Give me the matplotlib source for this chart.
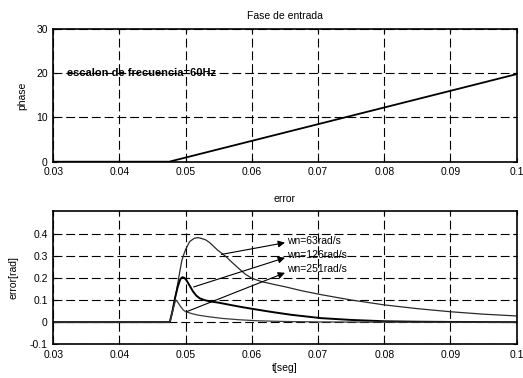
import matplotlib
matplotlib.use("Agg")
import matplotlib.pyplot as plt

plt.rcParams['font.family'] = ['Liberation Sans', 'DejaVu Sans']

# ---- data ----
x_ticks = [0.03, 0.04, 0.05, 0.06, 0.07, 0.08, 0.09, 0.1]
x_ticklabels = ["0.03", "0.04", "0.05", "0.06", "0.07", "0.08", "0.09", "0.1"]
phase_yticks = [0, 10, 20, 30]
phase_yticklabels = ["0", "10", "20", "30"]
err_yticks = [-0.1, 0, 0.1, 0.2, 0.3, 0.4]
err_yticklabels = ["-0.1", "0", "0.1", "0.2", "0.3", "0.4"]

t_phase = [0.03, 0.0475, 0.1]
phase = [0.0, 0.0, 19.8]

t_wn63 = [0.03, 0.0476, 0.0480, 0.0484, 0.0486, 0.0490, 0.0494, 0.0497, 0.0500,
          0.0506, 0.0513, 0.0519, 0.0524, 0.0530, 0.0536, 0.0542, 0.0548, 0.0555,
          0.0562, 0.0570, 0.0580, 0.0590, 0.0600, 0.0615, 0.0634, 0.0650, 0.0675,
          0.0705, 0.0750, 0.0800, 0.0850, 0.0900, 0.0950, 0.1000]
e_wn63 = [0.0, 0.0, 0.05, 0.11, 0.14, 0.21, 0.276, 0.305, 0.329,
          0.364, 0.379, 0.382, 0.378, 0.372, 0.360, 0.343, 0.326, 0.310,
          0.293, 0.270, 0.243, 0.217, 0.198, 0.183, 0.170, 0.160, 0.142,
          0.124, 0.100, 0.078, 0.061, 0.047, 0.036, 0.028]

t_wn126 = [0.03, 0.0476, 0.0480, 0.0484, 0.0488, 0.0492, 0.0495, 0.0498, 0.0501,
           0.0506, 0.0511, 0.0516, 0.0521, 0.0528, 0.0536, 0.0550, 0.0567, 0.0585,
           0.0605, 0.0630, 0.0660, 0.0705, 0.0750, 0.0800, 0.0850, 0.0900, 0.1000]
e_wn126 = [0.0, 0.0, 0.05, 0.11, 0.16, 0.195, 0.203, 0.200, 0.190,
           0.165, 0.139, 0.120, 0.108, 0.100, 0.094, 0.088, 0.078, 0.068,
           0.058, 0.046, 0.033, 0.018, 0.010, 0.004, 0.002, 0.001, 0.0]

t_wn251 = [0.03, 0.0476, 0.0479, 0.0482, 0.0485, 0.0488, 0.0492, 0.0496, 0.0500,
           0.0510, 0.0520, 0.0536, 0.0555, 0.0580, 0.0610, 0.0650, 0.0700, 0.0800, 0.1000]
e_wn251 = [0.0, 0.0, 0.035, 0.07, 0.101, 0.090, 0.072, 0.056, 0.047,
           0.038, 0.031, 0.024, 0.017, 0.011, 0.006, 0.003, 0.001, 0.0, 0.0]

labels = ["wn=63rad/s", "wn=126rad/s", "wn=251rad/s"]
arrow_from = [(0.0554, 0.306), (0.0512, 0.159), (0.0502, 0.048)]
arrow_to = [(0.0650, 0.359), (0.0650, 0.291), (0.0650, 0.223)]
label_pos = [(0.0653, 0.366), (0.0653, 0.303), (0.0653, 0.242)]

# ---- figure ----
fig = plt.figure(figsize=(5.23, 3.78), dpi=100)
ax1 = fig.add_axes([0.1019, 0.5722, 0.8860, 0.3511])
ax2 = fig.add_axes([0.1019, 0.0892, 0.8860, 0.3513])

fs = 7.5
grid_kw = dict(color='black', linestyle=(0, (8, 3.5)), linewidth=0.8)

for ax in (ax1, ax2):
    ax.set_xlim(0.03, 0.1)
    ax.set_xticks(x_ticks)
    ax.set_xticklabels(x_ticklabels, fontsize=fs)
    ax.grid(True, **grid_kw)
    ax.set_axisbelow(True)
    ax.tick_params(direction='in', top=True, right=True, length=3, width=0.8,
                   labelsize=fs, pad=4)
    for s in ax.spines.values():
        s.set_linewidth(1.2)

ax1.plot(t_phase, phase, color='black', lw=1.3)
ax1.set_ylim(0, 30)
ax1.set_yticks(phase_yticks)
ax1.set_yticklabels(phase_yticklabels, fontsize=fs)
ax1.set_ylabel("phase", fontsize=fs, labelpad=6)
ax1.set_title("Fase de entrada", fontsize=fs, pad=7)
ax1.text(0.032, 20, "escalon de frecuencia=60Hz", fontsize=8, fontweight='bold',
         va='center', ha='left')

ax2.plot(t_wn63, e_wn63, color='#2a2a2a', lw=0.9)
ax2.plot(t_wn126, e_wn126, color='black', lw=1.4)
ax2.plot(t_wn251, e_wn251, color='#3a3a3a', lw=0.9)
ax2.set_ylim(-0.1, 0.5)
ax2.set_yticks(err_yticks)
ax2.set_yticklabels(err_yticklabels, fontsize=fs)
ax2.set_ylabel("error[rad]", fontsize=fs, labelpad=8)
ax2.set_xlabel("t[seg]", fontsize=fs, labelpad=2)
ax2.set_title("error", fontsize=fs, pad=7)

for lab, a0, a1, lp in zip(labels, arrow_from, arrow_to, label_pos):
    ax2.annotate("", xy=a1, xytext=a0,
                 arrowprops=dict(arrowstyle='-|>', color='black', lw=0.8,
                                 mutation_scale=10, shrinkA=0, shrinkB=0))
    ax2.text(lp[0], lp[1], lab, fontsize=fs, va='center', ha='left')

fig.savefig("out.png", dpi=100)
